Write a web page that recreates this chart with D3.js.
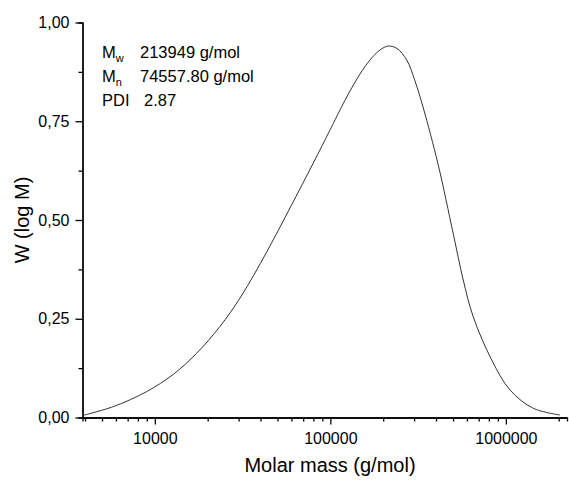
<!DOCTYPE html>
<html>
<head>
<meta charset="utf-8">
<script src="https://cdn.jsdelivr.net/npm/d3@7"></script>
<style>
  body { margin: 0; background: #fff; }
  svg { display: block; font-family: "Liberation Sans", Arial, sans-serif; }
</style>
</head>
<body>
<svg id="chart" width="569" height="480"></svg>
<script>
// molar mass (g/mol) and W(log M)
const molarMass = [3870, 5797, 8986, 12744, 17316, 23505, 30838, 43378, 58884, 79945,
  99541, 113440, 129340, 147540, 168230, 191820, 213900, 239720, 272270, 303600,
  338530, 410540, 501760, 569900, 652330, 830520, 1055900, 1433400, 2034700];
const weight = [0.0051, 0.0276, 0.0656, 0.1094, 0.1628, 0.2306, 0.3051, 0.419, 0.5304, 0.6443,
  0.7278, 0.7785, 0.8266, 0.8696, 0.9051, 0.9304, 0.9405, 0.9342, 0.9051, 0.8519,
  0.7835, 0.6418, 0.4646, 0.3506, 0.2544, 0.1456, 0.0696, 0.0233, 0.0063];

const xMajor = [10000, 100000, 1000000];
const xMinor = [4000, 5000, 6000, 7000, 8000, 9000,
  20000, 30000, 40000, 50000, 60000, 70000, 80000, 90000,
  200000, 300000, 400000, 500000, 600000, 700000, 800000, 900000, 2000000];
const yMajor = [0, 0.25, 0.5, 0.75, 1.0];
const yMinor = [0.125, 0.375, 0.625, 0.875];

const stats = [
  { sym: "M", sub: "w", value: "213949 g/mol" },
  { sym: "M", sub: "n", value: "74557.80 g/mol" },
  { sym: "PDI", sub: "", value: "2.87" }
];

const svg = d3.select("#chart");
const plotL = 82.5, plotR = 567, plotT = 22.5, plotB = 417.5;

const x = d3.scaleLog().domain([3870, 2230000]).range([plotL, plotR]);
const y = d3.scaleLinear().domain([0, 1]).range([plotB, plotT]);

const fmtY = v => d3.format(".2f")(v).replace(".", ",");

// minor ticks first
const gx = svg.append("g").attr("transform", `translate(0,${plotB})`);
gx.call(d3.axisBottom(x).tickValues(xMinor).tickSize(4).tickFormat(""));
gx.append("g").call(d3.axisBottom(x).tickValues(xMajor).tickSize(7).tickSizeOuter(0)
  .tickFormat(d3.format("d")).tickPadding(8));
gx.selectAll(".domain").attr("stroke", "#000").attr("stroke-width", 1.3);
gx.selectAll(".tick line").attr("stroke", "#000").attr("stroke-width", 1.3);
gx.selectAll(".tick text").attr("font-size", 16).attr("fill", "#000")
  .attr("font-family", "Liberation Sans, Arial, sans-serif");

const gy = svg.append("g").attr("transform", `translate(${plotL},0)`);
gy.call(d3.axisLeft(y).tickValues(yMinor).tickSize(4).tickFormat(""));
gy.append("g").call(d3.axisLeft(y).tickValues(yMajor).tickSize(7).tickSizeOuter(0)
  .tickFormat(fmtY).tickPadding(6));
gy.selectAll(".domain").attr("stroke", "#000").attr("stroke-width", 1.3);
gy.selectAll(".tick line").attr("stroke", "#000").attr("stroke-width", 1.3);
gy.selectAll(".tick text").attr("font-size", 16).attr("fill", "#000")
  .attr("font-family", "Liberation Sans, Arial, sans-serif");

// curve
const pts = molarMass.map((m, i) => [x(m), y(weight[i])]);
svg.append("path")
  .attr("d", d3.line().curve(d3.curveCatmullRom.alpha(0.5))(pts))
  .attr("fill", "none")
  .attr("stroke", "#333")
  .attr("stroke-width", 1);

// axis titles
svg.append("text")
  .attr("x", 330).attr("y", 472)
  .attr("text-anchor", "middle")
  .attr("font-size", 20)
  .text("Molar mass (g/mol)");

svg.append("text")
  .attr("transform", `translate(28.5,${(plotT + plotB) / 2}) rotate(-90)`)
  .attr("text-anchor", "middle")
  .attr("font-size", 20)
  .text("W (log M)");

// stats box
const info = svg.append("g").attr("font-size", 16.5);
stats.forEach((s, i) => {
  const t = info.append("text").attr("x", 102).attr("y", 58 + i * 24);
  t.append("tspan").text(s.sym);
  if (s.sub) t.append("tspan").attr("font-size", 11).attr("dy", 4).text(s.sub);
  t.append("tspan").attr("x", s.sub ? 140 : 144).attr("dy", s.sub ? -4 : 0).text(s.value);
});
</script>
</body>
</html>
